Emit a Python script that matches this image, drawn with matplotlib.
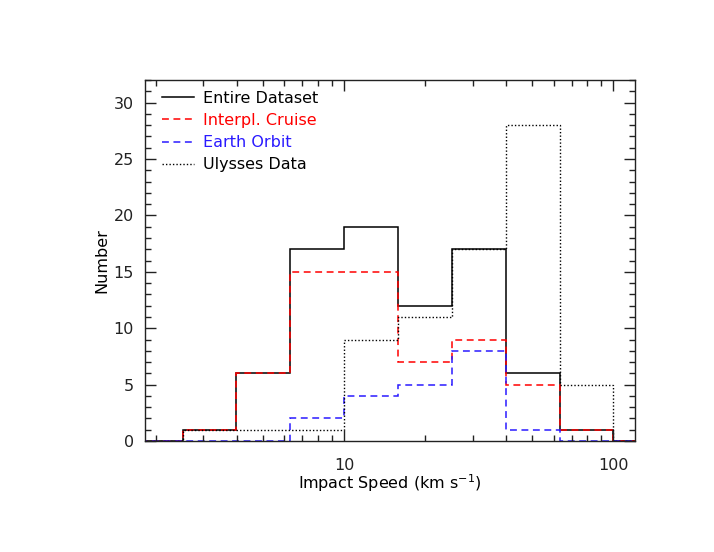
import matplotlib.pyplot as plt
from matplotlib.ticker import LogLocator, MultipleLocator, NullFormatter, FixedLocator

# bin edges (km/s), 0.2 dex wide
edges = [1.585, 2.512, 3.981, 6.310, 10.0, 15.85, 25.12, 39.81, 63.10, 100.0, 158.5]

entire = [0, 1, 6, 17, 19, 12, 17, 6, 1, 0]
cruise = [0, 1, 6, 15, 15, 7, 9, 5, 1, 0]
earth = [0, 0, 0, 2, 4, 5, 8, 1, 0, 0]
ulysses = [0, 1, 1, 1, 9, 11, 17, 28, 5, 0]

plt.rcParams['font.family'] = 'DejaVu Sans'
plt.rcParams['font.size'] = 11.5

fig = plt.figure(figsize=(7.14, 5.52), dpi=100)
ax = fig.add_axes([0.203, 0.201, 0.686, 0.654])

ax.stairs(entire, edges, baseline=None, color='black', lw=1.1, label='Entire Dataset')
ax.stairs(cruise, edges, baseline=None, color='red', lw=1.1, ls=(0, (4.5, 3)), label='Interpl. Cruise')
ax.stairs(earth, edges, baseline=None, color='#2a1aff', lw=1.1, ls=(0, (4.5, 3)), label='Earth Orbit')
ax.stairs(ulysses, edges, baseline=None, color='black', lw=1.0, ls=(0, (1, 1.5)), label='Ulysses Data')

ax.set_xscale('log')
ax.set_xlim(1.82, 120)
ax.set_ylim(0, 32)

ax.xaxis.set_major_locator(FixedLocator([10, 100]))
ax.xaxis.set_major_formatter(plt.FuncFormatter(lambda v, p: '%d' % v))
ax.xaxis.set_minor_locator(LogLocator(base=10, subs=range(2, 10)))
ax.xaxis.set_minor_formatter(NullFormatter())
ax.yaxis.set_major_locator(MultipleLocator(5))
ax.yaxis.set_minor_locator(MultipleLocator(1))

ax.tick_params(which='both', direction='in', top=True, right=True, width=1, colors='#222222')
ax.tick_params(which='major', length=8)
ax.tick_params(axis='x', which='major', pad=12)
ax.tick_params(axis='y', which='major', pad=8)
ax.tick_params(which='minor', length=4)
for s in ax.spines.values():
    s.set_linewidth(1)
    s.set_color('#222222')

ax.set_xlabel('Impact Speed (km s$^{-1}$)', labelpad=0)
ax.set_ylabel('Number', labelpad=3)

leg = ax.legend(loc='upper left', bbox_to_anchor=(0.006, 1.01), frameon=False,
                handlelength=2.0, handletextpad=0.55, labelspacing=0.45,
                borderaxespad=0.5, labelcolor=['black', 'red', '#2a1aff', 'black'])

fig.savefig('out.png', dpi=100)
